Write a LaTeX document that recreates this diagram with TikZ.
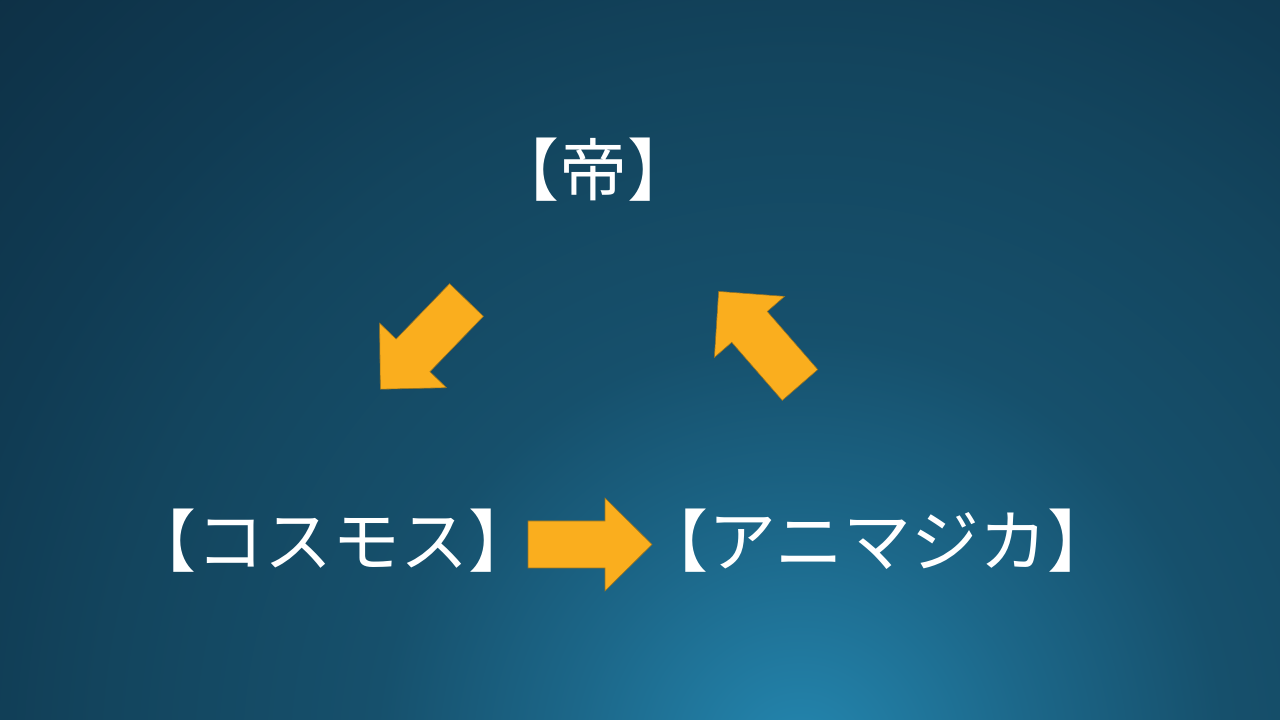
\documentclass[tikz,border=0pt]{standalone}
\usepackage{fontspec}
\newfontfamily\jpfont{Noto Sans CJK JP}
\definecolor{bgA}{HTML}{2487B0}
\definecolor{bgB}{HTML}{1C6789}
\definecolor{bgC}{HTML}{16506C}
\definecolor{bgD}{HTML}{13455E}
\definecolor{bgE}{HTML}{103B53}
\definecolor{bgF}{HTML}{0D2F44}
\definecolor{arrowfill}{HTML}{FAAE1E}
\definecolor{arrowedge}{HTML}{9A7420}
\pgfdeclareradialshading{bgshade}{\pgfpoint{0bp}{0bp}}{%
  color(0bp)=(bgA); color(5bp)=(bgB); color(9.25bp)=(bgC);
  color(15bp)=(bgD); color(18.75bp)=(bgE); color(25bp)=(bgF); color(50bp)=(bgF)}
\tikzset{
  x=1pt, y=1pt,
  label/.style={text=white, font=\jpfont\fontsize{68}{80}\selectfont, inner sep=0pt},
  blockarrow/.pic={
    \fill[arrowfill, draw=arrowedge, line width=0.6pt, line join=miter]
      (0,-23.5) -- (77,-23.5) -- (77,-46.5) -- (124,0) -- (77,46.5)
      -- (77,23.5) -- (0,23.5) -- cycle;
  }
}
\begin{document}
\begin{tikzpicture}
\useasboundingbox (0,0) rectangle (1280,720);
\begin{scope}
  \clip (0,0) rectangle (1280,720);
  \shade[shading=bgshade] (800,-40) circle (1150);
\end{scope}
% labels
\node[label] (tei) at (593,550) {【帝】};
\node[label] (cosmos) at (332,179.5) {【コスモス】};
\node[label] (animagica) at (878,179.5) {【アニマジカ】};
% block arrows
\pic[rotate=0] at (528,175.5) {blockarrow};
\pic[rotate=226] at (466.5,420) {blockarrow};
\pic[rotate=131] at (800,335) {blockarrow};
\end{tikzpicture}
\end{document}
